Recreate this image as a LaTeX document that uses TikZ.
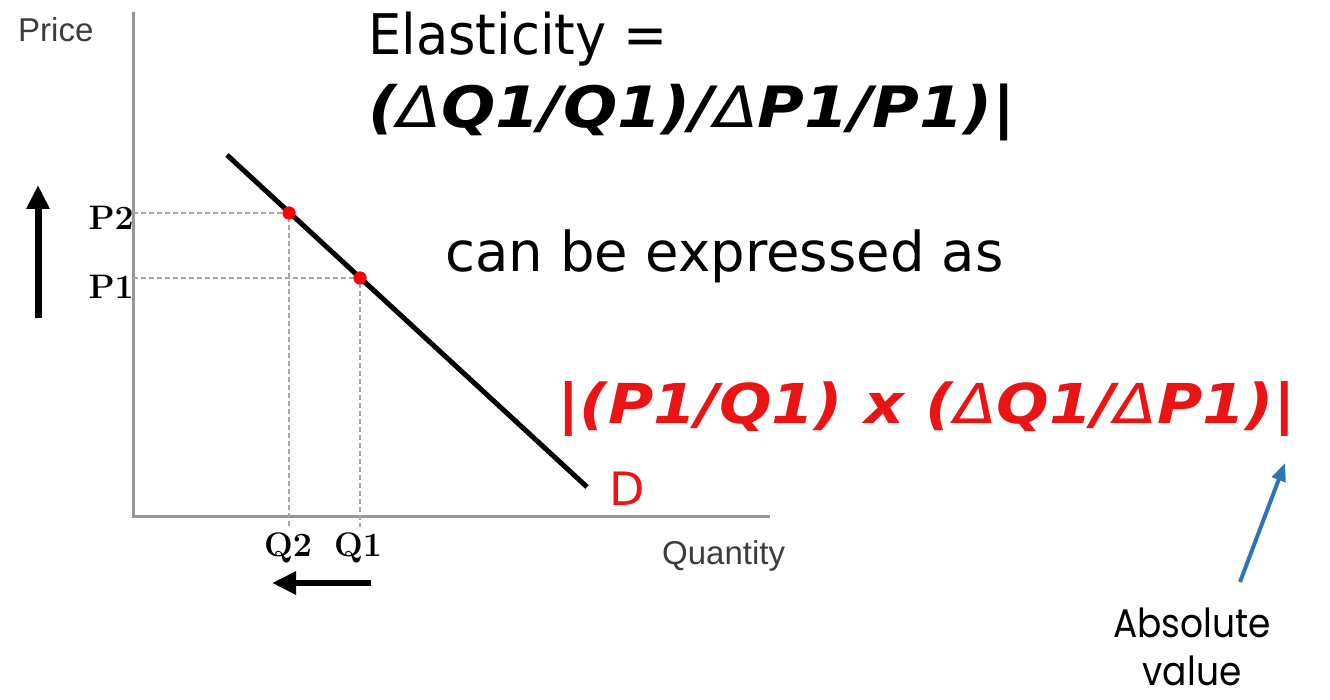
\documentclass[tikz,border=0pt]{standalone}
\usepackage{fontspec}
\newfontfamily\dv{DejaVu Sans}
\newfontfamily\arl{Liberation Sans}
\newfontfamily\geo{Poppins}
\usetikzlibrary{arrows.meta}
\definecolor{axisgray}{RGB}{150,150,150}
\definecolor{dashgray}{RGB}{165,165,165}
\definecolor{labgray}{RGB}{60,60,60}
\definecolor{fred}{RGB}{235,20,20}
\definecolor{ablue}{RGB}{46,117,182}
\tikzset{
  axisline/.style={draw=axisgray, line width=3pt},
  guide/.style={draw=dashgray, line width=2pt, dash pattern=on 5pt off 3pt},
  demand/.style={draw=black, line width=5pt},
  pt/.style={circle, fill=red, inner sep=0pt, minimum size=13pt},
  bigarrow/.style={draw=black, line width=7pt, -{Triangle[length=24pt,width=22pt]}},
  bluearrow/.style={draw=ablue, line width=4pt, -{Triangle[length=18pt,width=14pt]}},
  axlab/.style={font=\arl\fontsize{33}{36}\selectfont, text=labgray, inner sep=0pt},
  tick/.style={font=\bfseries\fontsize{34}{36}\selectfont, inner sep=0pt},
  txt/.style={inner sep=0pt, anchor=base west},
  abslab/.style={font=\geo\fontsize{40}{49}\selectfont, inner sep=0pt, anchor=base},
}
\begin{document}
\begin{tikzpicture}[x=1pt,y=-1pt]
\useasboundingbox[fill=white] (0,0) rectangle (1330,700);
% axes
\coordinate (O) at (133,516);
\coordinate (ytop) at (133,12);
\coordinate (xend) at (770,516);
\draw[axisline] (ytop) -- (O) -- (xend);
% guide coordinates
\coordinate (yP2) at (133,213);
\coordinate (yP1) at (133,278);
\coordinate (xQ2) at (289,527);
\coordinate (xQ1) at (360,527);
% demand
\coordinate (dstart) at (227,155);
\coordinate (dend) at (587,487);
\node[pt] (p2) at (289,213) {};
\node[pt] (p1) at (360,278) {};
\draw[guide] (yP2) -- (p2.center) -- (xQ2);
\draw[guide] (yP1) -- (p1.center) -- (xQ1);
\draw[demand] (dstart) -- (dend);
\node[pt] at (p2.center) {};
\node[pt] at (p1.center) {};
% labels
\node[axlab, anchor=west] (price) at (18,30) {Price};
\node[axlab, anchor=west] (qty) at (662,556) {Quantity};
\node[tick, anchor=east] (lP2) at (134,218) {P2};
\node[tick, anchor=east] (lP1) at (134,287) {P1};
\node[tick] (lQ2) at (288,548) {Q2};
\node[tick] (lQ1) at (358,548) {Q1};
\node[txt, text=fred, font=\dv\fontsize{46}{50}\selectfont] (D) at (609,505) {D};
% movement arrows
\coordinate (ua0) at (38,318);
\coordinate (ua1) at (38,185);
\draw[bigarrow] (ua0) -- (ua1);
\coordinate (la0) at (371,583);
\coordinate (la1) at (272,583);
\draw[bigarrow, line width=6pt] (la0) -- (la1);
% texts
\node[txt, font=\dv\fontsize{56}{60}\selectfont] (el) at (368,55) {\scalebox{0.94}[1]{Elasticity =}};
\node[txt, font=\dv\bfseries\itshape\fontsize{57}{60}\selectfont] (f1) at (368,128)
  {\scalebox{1.12}[1]{({\mdseries Δ}Q1/Q1)/{\mdseries Δ}P1/P1)|}};
\node[txt, font=\dv\fontsize{55}{60}\selectfont] (cb) at (445,272) {\scalebox{0.99}[1]{can be expressed as}};
\node[txt, text=fred, font=\dv\bfseries\itshape\fontsize{55}{60}\selectfont] (f2) at (557,423)
  {\scalebox{1.125}[1]{|(P1/Q1) x ({\mdseries Δ}Q1/{\mdseries Δ}P1)|}};
% absolute value
\node[abslab] (abs1) at (1192,637) {\scalebox{0.9}[1]{Absolute}};
\node[abslab] (abs2) at (1192,685) {\scalebox{0.9}[1]{value}};
\coordinate (ba0) at (1240,582);
\coordinate (ba1) at (1285,463);
\draw[bluearrow] (ba0) -- (ba1);
\end{tikzpicture}
\end{document}
